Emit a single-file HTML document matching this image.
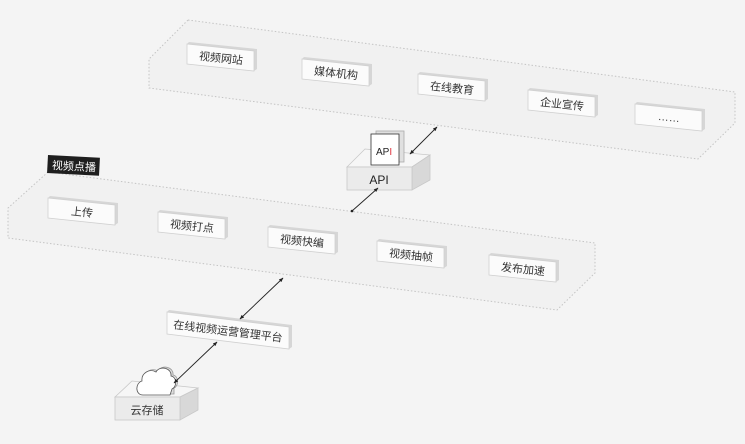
<!DOCTYPE html>
<html><head><meta charset="utf-8"><style>
body{margin:0;background:#f4f4f4;}
svg{display:block;font-family:"Liberation Sans","Noto Sans CJK SC",sans-serif;}
</style></head><body>
<svg width="745" height="444" viewBox="0 0 745 444" xmlns="http://www.w3.org/2000/svg">
<defs>
<marker id="a" viewBox="0 0 10 10" refX="9" refY="5" markerWidth="5" markerHeight="5" orient="auto-start-reverse"><path d="M0,1 L10,5 L0,9 z" fill="#222"/></marker>
<g id="bx">
<path d="M0,0 L2,-2 L70,5 L70,25 L67,27 Z" fill="#d6d6d6"/>
<path d="M0,0 L67,7 L67,27 L0,20 Z" fill="#fbfbfb" stroke="#d0d0d0" stroke-width="0.8"/>
</g>
</defs>
<rect width="745" height="444" fill="#f4f4f4"/>
<!-- top platform -->
<path d="M188,20 L735,92 L735,123 L698,159 L149,88 L149,59 Z" fill="#f1f1f1" stroke="#c4c4c4" stroke-dasharray="1.5,2" stroke-width="1"/>
<!-- bottom platform -->
<path d="M48,172 L595,243 L595,273 L557,310 L8,238 L8,208 Z" fill="#f1f1f1" stroke="#c4c4c4" stroke-dasharray="1.5,2" stroke-width="1"/>
<rect x="48" y="155" width="52" height="18" fill="#1e1e1e" transform="rotate(3 48 155)"/>
<text x="52" y="169" font-size="11" fill="#fff" transform="rotate(3 52 165)">视频点播</text>
<g font-size="11" fill="#333">
<use href="#bx" x="187" y="44"/><text x="221" y="62" text-anchor="middle" transform="rotate(6 221 58)">视频网站</text>
<use href="#bx" x="302" y="59"/><text x="336" y="77" text-anchor="middle" transform="rotate(6 336 73)">媒体机构</text>
<use href="#bx" x="418" y="74"/><text x="452" y="92" text-anchor="middle" transform="rotate(6 452 88)">在线教育</text>
<use href="#bx" x="528" y="90"/><text x="562" y="108" text-anchor="middle" transform="rotate(6 562 104)">企业宣传</text>
<use href="#bx" x="635" y="104"/><text x="669" y="121" text-anchor="middle" transform="rotate(6 669 117)">……</text>
<use href="#bx" x="48" y="198"/><text x="82" y="216" text-anchor="middle" transform="rotate(6 82 212)">上传</text>
<use href="#bx" x="158" y="212"/><text x="192" y="230" text-anchor="middle" transform="rotate(6 192 226)">视频打点</text>
<use href="#bx" x="268" y="227"/><text x="302" y="245" text-anchor="middle" transform="rotate(6 302 241)">视频快编</text>
<use href="#bx" x="377" y="241"/><text x="411" y="259" text-anchor="middle" transform="rotate(6 411 255)">视频抽帧</text>
<use href="#bx" x="489" y="255"/><text x="523" y="273" text-anchor="middle" transform="rotate(6 523 269)">发布加速</text>
</g>
<!-- platform box -->
<path d="M167,312 L169,310 L292,325 L292,347 L289,349 Z" fill="#d6d6d6"/>
<path d="M167,312 L289,327 L289,349 L167,334 Z" fill="#fbfbfb" stroke="#d0d0d0" stroke-width="0.8"/>
<text x="228" y="335" font-size="11" fill="#333" text-anchor="middle" transform="rotate(7 228 331)">在线视频运营管理平台</text>
<!-- API box -->
<path d="M347,167 L365,149 L430,155 L412,167 Z" fill="#f6f6f6" stroke="#c8c8c8" stroke-width="0.8"/>
<path d="M412,167 L430,155 L430,180 L412,190 Z" fill="#d8d8d8" stroke="#c8c8c8" stroke-width="0.8"/>
<rect x="347" y="167" width="65" height="23" fill="#ebebeb" stroke="#c8c8c8" stroke-width="0.8"/>
<text x="379" y="184" font-size="12" fill="#222" text-anchor="middle">API</text>
<rect x="376" y="131" width="28" height="31" fill="#e0e0e0" stroke="#aaa" stroke-width="0.8"/>
<rect x="371" y="134" width="28" height="31" fill="#fff" stroke="#333" stroke-width="0.8"/>
<text x="376" y="155" font-size="10" fill="#222">AP<tspan fill="#e0303a">I</tspan></text>
<!-- cloud box -->
<path d="M115,397 L132,381 L198,388 L180,397 Z" fill="#f6f6f6" stroke="#c8c8c8" stroke-width="0.8"/>
<path d="M180,397 L198,388 L198,410 L180,420 Z" fill="#d8d8d8" stroke="#c8c8c8" stroke-width="0.8"/>
<rect x="115" y="397" width="65" height="23" fill="#ebebeb" stroke="#c8c8c8" stroke-width="0.8"/>
<g transform="translate(0,-8)">
<path d="M143,403 C135,403 135,391 142,389 C141,381 150,376 156,380 C160,373 172,376 171,384 C177,385 177,395 172,397 L172,403 Z" fill="#ddd" stroke="#999" stroke-width="0.8" transform="translate(2,-1)"/>
<path d="M143,403 C135,403 135,391 142,389 C141,381 150,376 156,380 C160,373 172,376 171,384 C177,385 177,395 172,397 L170,403 Z" fill="#fff" stroke="#555" stroke-width="0.8"/>
</g>
<text x="147" y="414" font-size="11" fill="#333" text-anchor="middle">云存储</text>
<!-- arrows -->
<g stroke="#222" stroke-width="0.9" fill="none">
<line x1="352" y1="211" x2="378" y2="188" marker-end="url(#a)"/>
<line x1="410" y1="154" x2="437" y2="127" marker-start="url(#a)" marker-end="url(#a)"/>
<line x1="240" y1="319" x2="283" y2="278" marker-start="url(#a)" marker-end="url(#a)"/>
<line x1="174" y1="383" x2="217" y2="342" marker-start="url(#a)" marker-end="url(#a)"/>
</g>
<circle cx="352" cy="211" r="1.3" fill="#222"/>
</svg>
</body></html>
